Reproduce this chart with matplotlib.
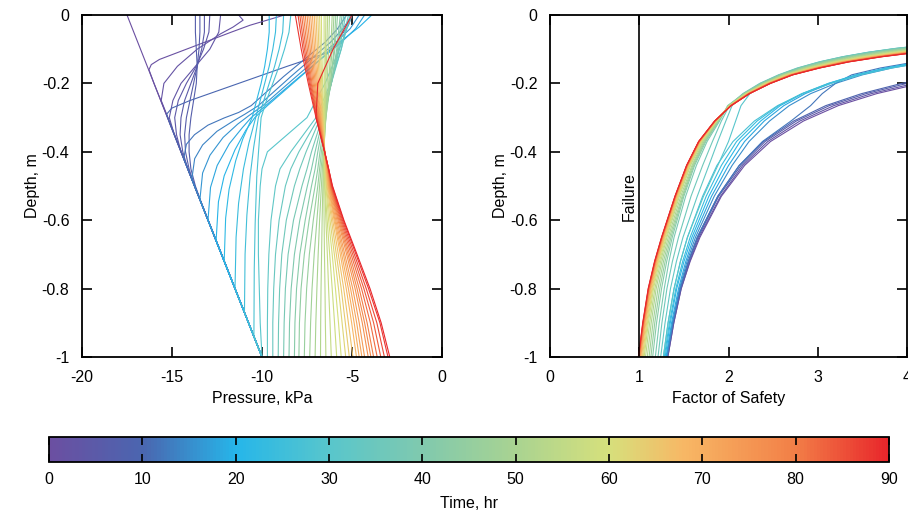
import numpy as np
import matplotlib
matplotlib.use('Agg')
import matplotlib.pyplot as plt
from matplotlib.colors import LinearSegmentedColormap, Normalize
from matplotlib.cm import ScalarMappable

plt.rcParams['font.family'] = ['Liberation Sans', 'DejaVu Sans']
plt.rcParams['font.size'] = 11.5
plt.rcParams['axes.unicode_minus'] = False

# colour scale for time (hr)
CMAP_POS = [0, 10, 20, 30, 40, 50, 60, 68, 80, 90]
CMAP_COL = ['#6b4fa1', '#4a66b0', '#26b6e9', '#58c6cc', '#80c9ae',
            '#a9d391', '#d6e07c', '#f7b865', '#f27f47', '#e8262b']

# left panel, early profiles (depth m, pressure kPa), each with its own points
EARLY_TIMES = [0, 1, 2, 3, 4, 5, 6, 7, 10, 12, 14, 16, 18, 20, 22, 24, 26, 28]
EARLY_DEPTH = [
    [0, 1.0],
    [0, 0.03, 0.05, 0.1, 0.13, 0.145, 0.16, 0.2, 1.0],
    [0, 0.015, 0.035, 0.055, 0.1, 0.15, 0.2, 0.25, 1.0],
    [0, 0.05, 0.1, 0.15, 0.2, 0.25, 0.3, 0.35, 1.0],
    [0, 0.05, 0.1, 0.15, 0.2, 0.25, 0.3, 0.35, 0.4, 1.0],
    [0, 0.05, 0.1, 0.15, 0.2, 0.25, 0.3, 0.35, 0.4, 0.45, 1.0],
    [0, 0.05, 0.1, 0.15, 0.2, 0.25, 0.3, 0.35, 0.4, 0.45, 0.5, 1.0],
    [0, 0.05, 0.1, 0.15, 0.2, 0.25, 0.3, 0.35, 0.4, 0.45, 0.5, 0.55, 1.0],
    [0, 0.03, 0.06, 0.09, 0.111, 0.15, 0.2, 0.25, 0.272, 0.29, 0.32, 1.0],
    [0, 0.04, 0.08, 0.18, 0.265, 0.285, 0.301, 0.322, 0.35, 0.378, 0.42, 1.0],
    [0, 0.04, 0.08, 0.18, 0.265, 0.29, 0.31, 0.34, 0.38, 0.42, 0.48, 1.0],
    [0, 0.04, 0.08, 0.18, 0.265, 0.295, 0.319, 0.358, 0.41, 0.462, 0.54, 1.0],
    [0, 0.04, 0.08, 0.18, 0.265, 0.3, 0.328, 0.376, 0.44, 0.504, 0.6, 1.0],
    [0, 0.035, 0.08, 0.18, 0.265, 0.3, 0.337, 0.394, 0.47, 0.546, 0.66, 1.0],
    [0, 0.05, 0.1, 0.15, 0.2, 0.25, 0.3, 0.363, 0.426, 0.51, 0.594, 0.72, 1.0],
    [0, 0.05, 0.1, 0.15, 0.2, 0.25, 0.3, 0.375, 0.45, 0.55, 0.65, 0.8, 1.0],
    [0, 0.05, 0.1, 0.15, 0.2, 0.25, 0.3, 0.386, 0.471, 0.585, 0.699, 0.87, 1.0],
    [0, 0.05, 0.1, 0.15, 0.2, 0.25, 0.3, 0.39, 0.472, 0.61, 0.742, 0.94, 1.0],
]
EARLY_P = [
    [-17.5, -10.0],
    [-8.75, -10.67, -11.7, -14.2, -15.7, -16.15, -16.28, -16.0, -10.0],
    [-11.3, -11.05, -11.6, -12.3, -13.6, -14.7, -15.45, -15.6, -10.0],
    [-12.3, -12.4, -12.9, -13.7, -14.5, -14.95, -15.15, -14.87, -10.0],
    [-12.9, -12.95, -13.25, -13.65, -14.2, -14.65, -14.85, -14.75, -14.5, -10.0],
    [-13.2, -13.2, -13.35, -13.6, -13.95, -14.3, -14.5, -14.55, -14.4, -14.12, -10.0],
    [-13.45, -13.45, -13.5, -13.6, -13.8, -14.0, -14.2, -14.3, -14.25, -14.05, -13.75, -10.0],
    [-13.7, -13.7, -13.65, -13.6, -13.65, -13.8, -13.95, -14.05, -14.05, -13.95, -13.7, -13.37, -10.0],
    [-5.0, -5.2, -5.6, -6.0, -6.4, -8.6, -11.3, -14.0, -15.0, -15.3, -15.1, -10.0],
    [-5.3, -5.8, -6.5, -8.8, -10.6, -11.3, -12.1, -13.0, -13.75, -14.2, -14.35, -10.0],
    [-5.0, -5.5, -6.2, -8.4, -10.2, -10.95, -11.6, -12.5, -13.3, -13.74, -13.9, -10.0],
    [-4.6, -5.1, -5.9, -8.1, -9.95, -10.75, -11.35, -12.16, -12.89, -13.3, -13.45, -10.0],
    [-4.3, -4.8, -5.6, -7.9, -9.8, -10.6, -11.07, -11.81, -12.49, -12.86, -13.0, -10.0],
    [-3.9, -4.6, -5.7, -7.85, -9.7, -10.4, -10.9, -11.5, -12.1, -12.42, -12.55, -10.0],
    [-9.6, -9.6, -9.7, -9.85, -10.05, -10.3, -10.55, -11.07, -11.46, -11.83, -12.02, -12.1, -10.0],
    [-9.2, -9.25, -9.4, -9.6, -9.85, -10.1, -10.35, -10.73, -11.03, -11.3, -11.44, -11.5, -10.0],
    [-8.8, -8.85, -9.05, -9.3, -9.6, -9.9, -10.2, -10.46, -10.66, -10.84, -10.94, -10.975, -10.0],
    [-8.4, -8.5, -8.75, -9.05, -9.4, -9.75, -10.05, -10.18, -10.29, -10.38, -10.43, -10.45, -10.0],
]

# left panel, later profiles on a shared depth grid
LATE_DEPTH = [0, 0.1, 0.2, 0.3, 0.4, 0.45, 0.5, 0.6, 0.7, 0.8, 0.9, 1.0]
LATE_TIMES = list(range(30, 90, 2)) + [90]
LATE_P = [
    [-5.0, -5.7, -6.5, -7.5, -9.7, -10.0, -10.1, -10.2, -10.2, -10.15, -10.1, -10.0],
    [-5.1, -5.6, -6.2, -7.0, -8.4, -9.0, -9.25, -9.5, -9.62, -9.68, -9.7, -9.7],
    [-5.2, -5.6, -6.15, -6.85, -7.95, -8.4, -8.7, -9.05, -9.25, -9.35, -9.4, -9.4],
    [-5.35, -5.7, -6.15, -6.75, -7.55, -7.9, -8.2, -8.65, -8.9, -9.02, -9.08, -9.1],
    [-5.45, -5.75, -6.15, -6.65, -7.25, -7.5, -7.78, -8.25, -8.55, -8.7, -8.77, -8.8],
    [-5.55, -5.8, -6.15, -6.6, -7.05, -7.25, -7.48, -7.9, -8.2, -8.38, -8.47, -8.5],
    [-5.65, -5.85, -6.15, -6.55, -6.9, -7.05, -7.25, -7.6, -7.9, -8.08, -8.17, -8.2],
    [-5.8, -5.95, -6.2, -6.5, -6.78, -6.9, -7.05, -7.38, -7.65, -7.83, -7.92, -7.95],
    [-5.9, -6.0, -6.2, -6.45, -6.7, -6.8, -6.9, -7.15, -7.37, -7.52, -7.61, -7.65],
    [-6.0, -6.1, -6.25, -6.45, -6.63, -6.72, -6.8, -6.95, -7.1, -7.22, -7.3, -7.35],
    [-6.1, -6.18, -6.3, -6.45, -6.58, -6.65, -6.7, -6.8, -6.88, -6.95, -7.01, -7.05],
    [-6.25, -6.3, -6.38, -6.48, -6.56, -6.6, -6.62, -6.66, -6.69, -6.72, -6.74, -6.75],
    [-6.35, -6.4, -6.45, -6.5, -6.55, -6.57, -6.57, -6.55, -6.53, -6.5, -6.48, -6.45],
    [-6.45, -6.47, -6.5, -6.52, -6.54, -6.55, -6.52, -6.45, -6.37, -6.3, -6.22, -6.15],
    [-6.55, -6.55, -6.55, -6.54, -6.53, -6.53, -6.5, -6.38, -6.24, -6.1, -5.97, -5.85],
    [-6.7, -6.68, -6.63, -6.57, -6.52, -6.5, -6.45, -6.3, -6.1, -5.92, -5.75, -5.6],
    [-6.8, -6.76, -6.68, -6.6, -6.52, -6.48, -6.42, -6.22, -5.98, -5.75, -5.55, -5.35],
    [-6.9, -6.84, -6.74, -6.63, -6.52, -6.46, -6.38, -6.14, -5.87, -5.6, -5.37, -5.15],
    [-7.0, -6.92, -6.8, -6.66, -6.52, -6.44, -6.35, -6.07, -5.76, -5.46, -5.2, -4.95],
    [-7.1, -7.0, -6.86, -6.7, -6.52, -6.42, -6.32, -6.0, -5.65, -5.32, -5.02, -4.75],
    [-7.2, -7.08, -6.92, -6.73, -6.52, -6.4, -6.3, -5.95, -5.57, -5.2, -4.88, -4.6],
    [-7.3, -7.16, -6.98, -6.76, -6.52, -6.38, -6.27, -5.9, -5.48, -5.08, -4.74, -4.45],
    [-7.4, -7.24, -7.04, -6.79, -6.52, -6.36, -6.24, -5.84, -5.4, -4.96, -4.6, -4.3],
    [-7.5, -7.32, -7.1, -6.82, -6.52, -6.35, -6.22, -5.78, -5.3, -4.83, -4.43, -4.1],
    [-7.6, -7.4, -7.16, -6.85, -6.52, -6.34, -6.2, -5.73, -5.22, -4.72, -4.3, -3.95],
    [-7.7, -7.48, -7.22, -6.88, -6.52, -6.33, -6.18, -5.68, -5.14, -4.6, -4.16, -3.8],
    [-7.8, -7.56, -7.27, -6.91, -6.52, -6.32, -6.16, -5.63, -5.05, -4.47, -3.98, -3.6],
    [-7.9, -7.64, -7.32, -6.94, -6.52, -6.31, -6.14, -5.58, -4.96, -4.34, -3.8, -3.4],
    [-8.0, -7.72, -7.37, -6.97, -6.52, -6.3, -6.12, -5.53, -4.87, -4.21, -3.62, -3.2],
    [-8.15, -7.82, -7.43, -7.0, -6.52, -6.3, -6.1, -5.48, -4.78, -4.08, -3.45, -3.0],
    [-5.0, -6.05, -6.9, -7.0, -6.52, -6.3, -6.08, -5.45, -4.72, -4.0, -3.38, -2.9],
]

# right panel, factor of safety profiles
FS_DEPTH = [1.0, 0.9, 0.8, 0.72, 0.65, 0.53, 0.44, 0.37, 0.31, 0.265, 0.23,
            0.2, 0.175, 0.155, 0.137, 0.122, 0.109, 0.098, 0.088]
FS_TIMES = list(range(0, 91, 3))
FS_VALUES = [
    [1.32, 1.387, 1.47, 1.571, 1.68, 1.92, 2.18, 2.47, 2.84, 3.23, 3.66, 4.15, 4.7, 5.3, 6.0, 6.7, 7.5, 8.3, 9.2],
    [1.32, 1.387, 1.47, 1.566, 1.67, 1.91, 2.16, 2.44, 2.8, 3.18, 3.6, 4.08, 4.6, 5.2, 5.85, 6.5, 7.3, 8.1, 9.0],
    [1.31, 1.377, 1.46, 1.556, 1.66, 1.89, 2.14, 2.41, 2.76, 3.13, 3.54, 4.0, 4.5, 5.05, 5.7, 6.3, 7.1, 7.8, 8.7],
    [1.31, 1.377, 1.46, 1.551, 1.65, 1.88, 2.12, 2.39, 2.73, 3.09, 3.49, 3.94, 4.43, 4.95, 5.55, 6.15, 6.9, 7.6, 8.4],
    [1.31, 1.377, 1.46, 1.551, 1.65, 1.88, 2.12, 2.38, 2.7, 2.92, 3.05, 3.2, 3.38, 3.7, 4.1, 4.5, 4.9, 5.3, 5.8],
    [1.31, 1.372, 1.45, 1.536, 1.63, 1.84, 2.04, 2.23, 2.46, 2.68, 2.92, 3.2, 3.5, 3.83, 4.22, 4.65, 5.1, 5.6, 6.2],
    [1.3, 1.362, 1.44, 1.522, 1.61, 1.81, 2.0, 2.18, 2.4, 2.62, 2.86, 3.14, 3.45, 3.78, 4.16, 4.58, 5.0, 5.5, 6.0],
    [1.29, 1.348, 1.42, 1.502, 1.59, 1.78, 1.96, 2.13, 2.36, 2.58, 2.83, 3.12, 3.43, 3.76, 4.14, 4.55, 4.98, 5.45, 5.95],
    [1.28, 1.338, 1.41, 1.487, 1.57, 1.75, 1.92, 2.09, 2.32, 2.56, 2.82, 3.12, 3.44, 3.78, 4.17, 4.6, 5.05, 5.5, 6.0],
    [1.27, 1.323, 1.39, 1.462, 1.54, 1.71, 1.87, 2.05, 2.29, 2.55, 2.83, 3.15, 3.48, 3.83, 4.23, 4.67, 5.1, 5.6, 6.1],
    [1.27, 1.323, 1.39, 1.462, 1.54, 1.72, 1.88, 2.0, 2.08, 2.14, 2.24, 2.4, 2.6, 2.8, 3.04, 3.3, 3.58, 3.88, 4.23],
    [1.24, 1.289, 1.35, 1.417, 1.49, 1.65, 1.78, 1.88, 1.97, 2.04, 2.18, 2.36, 2.57, 2.78, 3.02, 3.28, 3.56, 3.86, 4.21],
    [1.21, 1.254, 1.31, 1.372, 1.44, 1.58, 1.71, 1.82, 1.92, 2.01, 2.16, 2.35, 2.56, 2.77, 3.02, 3.28, 3.57, 3.87, 4.22],
    [1.18, 1.224, 1.28, 1.333, 1.39, 1.52, 1.64, 1.76, 1.9, 1.99, 2.17, 2.36, 2.58, 2.795, 3.044, 3.315, 3.607, 3.92, 4.28],
    [1.15, 1.194, 1.25, 1.308, 1.37, 1.5, 1.62, 1.745, 1.89, 2.0, 2.17, 2.37, 2.58, 2.808, 3.061, 3.338, 3.636, 3.955, 4.32],
    [1.13, 1.174, 1.23, 1.29, 1.355, 1.49, 1.61, 1.735, 1.885, 2.0, 2.18, 2.38, 2.6, 2.825, 3.085, 3.369, 3.675, 4.004, 4.376],
    [1.11, 1.154, 1.21, 1.272, 1.34, 1.48, 1.6, 1.725, 1.88, 2.0, 2.18, 2.39, 2.61, 2.845, 3.112, 3.405, 3.721, 4.06, 4.44],
    [1.09, 1.134, 1.19, 1.255, 1.325, 1.465, 1.59, 1.715, 1.875, 2.005, 2.19, 2.4, 2.62, 2.865, 3.139, 3.441, 3.767, 4.116, 4.504],
    [1.07, 1.117, 1.175, 1.24, 1.31, 1.45, 1.575, 1.705, 1.87, 2.01, 2.195, 2.405, 2.635, 2.885, 3.166, 3.477, 3.812, 4.172, 4.568],
    [1.055, 1.102, 1.16, 1.227, 1.3, 1.44, 1.567, 1.698, 1.865, 2.01, 2.2, 2.415, 2.645, 2.905, 3.194, 3.513, 3.858, 4.228, 4.632],
    [1.045, 1.092, 1.15, 1.217, 1.29, 1.435, 1.56, 1.693, 1.862, 2.014, 2.205, 2.42, 2.655, 2.92, 3.214, 3.54, 3.892, 4.27, 4.68],
    [1.035, 1.083, 1.142, 1.21, 1.284, 1.43, 1.556, 1.688, 1.86, 2.016, 2.21, 2.43, 2.665, 2.935, 3.234, 3.567, 3.926, 4.312, 4.728],
    [1.025, 1.073, 1.133, 1.202, 1.276, 1.422, 1.55, 1.683, 1.856, 2.019, 2.214, 2.436, 2.675, 2.95, 3.255, 3.594, 3.96, 4.354, 4.776],
    [1.017, 1.065, 1.125, 1.195, 1.27, 1.417, 1.545, 1.679, 1.853, 2.021, 2.219, 2.444, 2.685, 2.965, 3.275, 3.621, 3.995, 4.396, 4.824],
    [1.01, 1.058, 1.119, 1.189, 1.265, 1.413, 1.541, 1.675, 1.851, 2.023, 2.222, 2.45, 2.693, 2.978, 3.292, 3.644, 4.023, 4.431, 4.864],
    [1.005, 1.053, 1.114, 1.185, 1.261, 1.41, 1.539, 1.673, 1.85, 2.025, 2.225, 2.454, 2.699, 2.988, 3.306, 3.662, 4.046, 4.459, 4.896],
    [1.0, 1.048, 1.109, 1.181, 1.258, 1.406, 1.536, 1.67, 1.848, 2.026, 2.228, 2.459, 2.706, 2.998, 3.319, 3.68, 4.069, 4.487, 4.928],
    [0.997, 1.046, 1.107, 1.178, 1.255, 1.404, 1.534, 1.669, 1.847, 2.028, 2.23, 2.463, 2.71, 3.005, 3.33, 3.693, 4.086, 4.508, 4.952],
    [0.994, 1.043, 1.104, 1.176, 1.253, 1.403, 1.532, 1.667, 1.846, 2.029, 2.233, 2.466, 2.715, 3.013, 3.34, 3.707, 4.103, 4.529, 4.976],
    [0.992, 1.041, 1.102, 1.174, 1.251, 1.401, 1.531, 1.666, 1.845, 2.03, 2.234, 2.469, 2.718, 3.018, 3.347, 3.716, 4.114, 4.543, 4.992],
    [0.99, 1.039, 1.1, 1.172, 1.25, 1.4, 1.53, 1.665, 1.845, 2.03, 2.235, 2.47, 2.72, 3.02, 3.35, 3.72, 4.12, 4.55, 5.0],
]

DEPTH_TICKS = [0, -0.2, -0.4, -0.6, -0.8, -1]
DEPTH_LABELS = ['0', '-0.2', '-0.4', '-0.6', '-0.8', '-1']
P_TICKS = [-20, -15, -10, -5, 0]
FS_TICKS = [0, 1, 2, 3, 4]
TIME_TICKS = list(range(0, 91, 10))

cmap = LinearSegmentedColormap.from_list(
    'time', [(p / 90.0, c) for p, c in zip(CMAP_POS, CMAP_COL)])
norm = Normalize(0, 90)
LW = 0.8


def style_axes(ax):
    for s in ax.spines.values():
        s.set_linewidth(1.3)
    ax.tick_params(direction='in', top=True, right=True, length=7,
                   width=1.2, pad=9)
    ax.set_yticks(DEPTH_TICKS)
    ax.set_yticklabels(DEPTH_LABELS)
    ax.set_ylim(-1, 0)
    ax.set_ylabel('Depth, m', labelpad=1)


fig = plt.figure(figsize=(9.08, 5.13), dpi=100)
ax1 = fig.add_axes([82 / 908, 1 - 357 / 513, 360 / 908, 342 / 513])
ax2 = fig.add_axes([550 / 908, 1 - 357 / 513, 357 / 908, 342 / 513])
cax = fig.add_axes([49 / 908, 1 - 462 / 513, 840 / 908, 25 / 513])

# pressure profiles
for t, d, p in zip(EARLY_TIMES, EARLY_DEPTH, EARLY_P):
    ax1.plot(p, -np.array(d), color=cmap(norm(t)), lw=LW)
for t, p in zip(LATE_TIMES, LATE_P):
    ax1.plot(p, -np.array(LATE_DEPTH), color=cmap(norm(t)), lw=LW)
ax1.set_xlim(-20, 0)
ax1.set_xticks(P_TICKS)
ax1.set_xticklabels([str(v) for v in P_TICKS])
ax1.set_xlabel('Pressure, kPa', labelpad=5)
style_axes(ax1)

# factor of safety
for t, fs in zip(FS_TIMES, FS_VALUES):
    ax2.plot(fs, -np.array(FS_DEPTH), color=cmap(norm(t)), lw=LW)
ax2.plot([1, 1], [0, -1], color='black', lw=1.2)
ax2.text(0.885, -0.53, 'Failure', rotation=90, ha='center', va='center')
ax2.set_xlim(0, 4)
ax2.set_xticks(FS_TICKS)
ax2.set_xticklabels([str(v) for v in FS_TICKS])
ax2.set_xlabel('Factor of Safety', labelpad=5)
style_axes(ax2)

# colour bar
cb = fig.colorbar(ScalarMappable(norm=norm, cmap=cmap), cax=cax,
                  orientation='horizontal')
cb.set_ticks(TIME_TICKS)
cb.outline.set_linewidth(1.3)
cax.tick_params(direction='in', top=True, bottom=True, length=6, width=1.2,
                pad=7)
cb.set_label('Time, hr', labelpad=6.5)

fig.savefig('out.png', dpi=100)
